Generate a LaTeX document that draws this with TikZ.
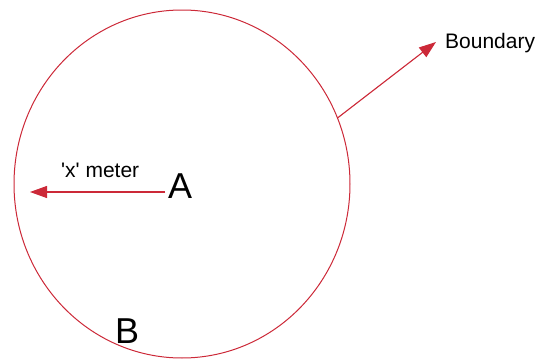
\documentclass[tikz,border=0pt]{standalone}
\usepackage{fontspec}
\setmainfont{Liberation Sans}
\usetikzlibrary{arrows.meta,shapes.geometric}
\definecolor{bred}{RGB}{204,41,56}
\begin{document}
\begin{tikzpicture}[x=1pt,y=1pt,
  redarrow/.style={draw=bred,line width=1.1pt,-{Triangle[length=17pt,width=12pt]},fill=bred},
  lbl/.style={inner sep=0pt,font=\fontsize{21}{25}\selectfont},
  big/.style={inner sep=0pt,font=\fontsize{36}{40}\selectfont}]
\useasboundingbox (0,0) rectangle (539,360);
\node[ellipse,draw=bred,line width=1pt,inner sep=0pt,outer sep=0pt,minimum width=336pt,minimum height=348pt] (circ) at (182,176) {};
\node[big,anchor=base west] (A) at (168,162) {A};
\node[big,anchor=base west] (B) at (115,17) {B};
\node[lbl,anchor=base west] (xm) at (61,183) {\textquotesingle x\textquotesingle{} meter};
\node[lbl,anchor=base west] (bd) at (445,312) {Boundary};
\coordinate (lt) at (30,168);
\coordinate (bt) at (436,318);
\draw[redarrow] (165,168) -- (lt);
\draw[redarrow] (circ.23.7) -- (bt);
\end{tikzpicture}
\end{document}
